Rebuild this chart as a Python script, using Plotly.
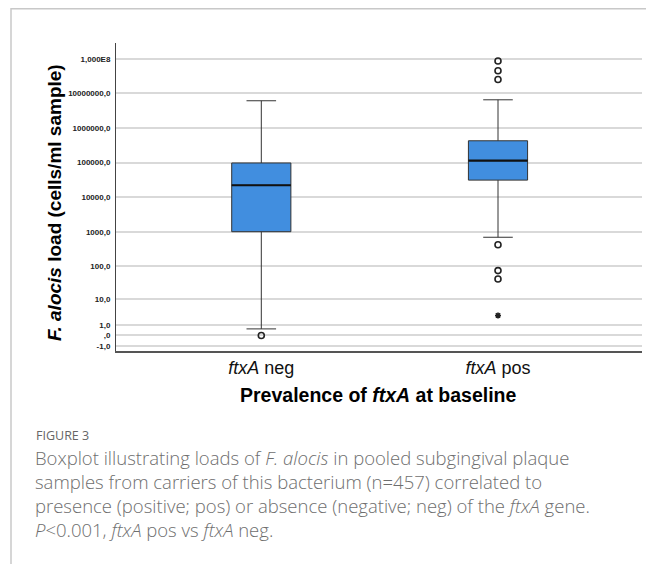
import numpy as np
import plotly.graph_objects as go

# ---------------- data (cells/ml sample) ----------------
categories = ["<i>ftxA</i> neg", "<i>ftxA</i> pos"]
q1_vals = [1000.0, 31000.0]
median_vals = [22000.0, 114000.0]
q3_vals = [97000.0, 425000.0]
lower_whisker = [0.55, 690.0]
upper_whisker = [6.1e6, 6.5e6]
outliers_neg = [0.0]
outliers_pos = [8.6e7, 4.5e7, 2.5e7, 420.0, 74.0, 42.0]
extremes_pos = [2.8]

tick_values = [1e8, 1e7, 1e6, 1e5, 1e4, 1000, 100, 10, 1, 0, -1]
tick_labels = ["1,000E8", "10000000,0", "1000000,0", "100000,0", "10000,0",
               "1000,0", "100,0", "10,0", "1,0", ",0", "-1,0"]


def slog(v):
    v = np.asarray(v, dtype=float)
    return np.sign(v) * np.log10(1 + np.abs(v))


# ---------------- layout geometry ----------------
OFF = 8                      # page body margin
W, H = 654 - OFF, 564 - OFF
L, R, T, B = 116 - OFF, 642 - OFF, 43 - OFF, 351 - OFF   # plot area (figure px)
pw, ph = R - L, B - T


def px(x):      # page x -> paper
    return (x - OFF - L) / pw


def py(y):      # page y -> paper
    return (B - (y - OFF)) / ph


BOX_COLOR = "#418EDF"
LINE_COLOR = "#333333"
xpos = [0, 1]
box_w = 0.25

fig = go.Figure()
for i in range(2):
    fig.add_trace(go.Box(
        x=[xpos[i]],
        q1=[slog(q1_vals[i])], median=[slog(median_vals[i])], q3=[slog(q3_vals[i])],
        lowerfence=[slog(lower_whisker[i])], upperfence=[slog(upper_whisker[i])],
        width=box_w, whiskerwidth=0.5,
        fillcolor=BOX_COLOR, line=dict(color=LINE_COLOR, width=1),
        boxpoints=False, showlegend=False, hoverinfo="skip",
    ))
    m = float(slog(median_vals[i]))
    fig.add_trace(go.Scatter(
        x=[xpos[i] - box_w / 2, xpos[i] + box_w / 2], y=[m, m], mode="lines",
        line=dict(color="#111111", width=2.2), showlegend=False, hoverinfo="skip",
    ))

fig.add_trace(go.Scatter(
    x=[xpos[0]] * len(outliers_neg), y=slog(outliers_neg), mode="markers",
    marker=dict(symbol="circle-open", size=6, color="#222222", line=dict(width=1.6)),
    showlegend=False, hoverinfo="skip",
))
fig.add_trace(go.Scatter(
    x=[xpos[1]] * len(outliers_pos), y=slog(outliers_pos), mode="markers",
    marker=dict(symbol="circle-open", size=6, color="#222222", line=dict(width=1.6)),
    showlegend=False, hoverinfo="skip",
))
fig.add_trace(go.Scatter(
    x=[xpos[1]] * len(extremes_pos), y=slog(extremes_pos), mode="markers",
    marker=dict(symbol="asterisk-open", size=5, color="#222222", line=dict(width=1.6)),
    showlegend=False, hoverinfo="skip",
))

y_top = 8.455
y_bot = -0.4485
x_left = -(261.3 - 116) / 236.7
x_right = 1 + (642 - 498) / 236.7

fig.update_layout(
    width=W, height=H,
    margin=dict(l=L, r=W - R, t=T, b=H - B, pad=0),
    paper_bgcolor="white", plot_bgcolor="white",
    font=dict(family="Arial, Liberation Sans, sans-serif", color="black"),
    xaxis=dict(
        range=[x_left, x_right], tickvals=xpos, ticktext=categories,
        showgrid=False, zeroline=False, showline=True, linecolor="#555555", linewidth=1.5,
        ticks="", tickfont=dict(size=18, color="#111111"), ticklabelstandoff=0,
    ),
    yaxis=dict(
        range=[y_bot, y_top], tickvals=list(slog(tick_values)), ticktext=tick_labels,
        showgrid=True, gridcolor="#d9d9d9", gridwidth=1.5, zeroline=False,
        showline=True, linecolor="#444444", linewidth=1,
        ticks="", tickfont=dict(size=8, color="#222222", weight="bold"), ticklabelstandoff=3,
    ),
)

caption_lines = [
    "Boxplot illustrating loads of <i>F. alocis</i> in pooled subgingival plaque",
    "samples from carriers of this bacterium (n=457) correlated to",
    "presence (positive; pos) or absence (negative; neg) of the <i>ftxA</i> gene.",
    "<i>P</i>&lt;0.001, <i>ftxA</i> pos vs <i>ftxA</i> neg.",
]

annotations = [
    dict(text="<b><i>F. alocis</i> load (cells/ml sample)</b>", x=px(55), y=py(203),
         xref="paper", yref="paper", textangle=-90, showarrow=False,
         font=dict(size=19, color="black"), xanchor="center", yanchor="middle"),
    dict(text="<b>Prevalence of <i>ftxA</i> at baseline</b>", x=px(378), y=py(395),
         xref="paper", yref="paper", showarrow=False,
         font=dict(size=19.5, color="black"), xanchor="center", yanchor="middle"),
    dict(text="FIGURE 3", x=px(34), y=py(435), xref="paper", yref="paper", showarrow=False,
         font=dict(family="Open Sans, sans-serif", size=12.5, color="#666666"),
         xanchor="left", yanchor="middle"),
    dict(text="<br>".join(caption_lines), x=px(33), y=py(493), xref="paper", yref="paper",
         showarrow=False, xanchor="left", yanchor="middle", align="left",
         font=dict(family="Open Sans, sans-serif", size=18.5, color="#6e6e6e", weight=300)),
]
fig.update_layout(annotations=annotations)

# outer frame lines (top and left)
fig.add_shape(type="line", xref="paper", yref="paper", x0=px(11), x1=px(660), y0=py(8.75), y1=py(8.75),
              line=dict(color="#c8c8c8", width=1.5))
fig.add_shape(type="line", xref="paper", yref="paper", x0=px(11), x1=px(11), y0=py(8), y1=py(570),
              line=dict(color="#c8c8c8", width=1.5))

fig.write_html("out.html")
